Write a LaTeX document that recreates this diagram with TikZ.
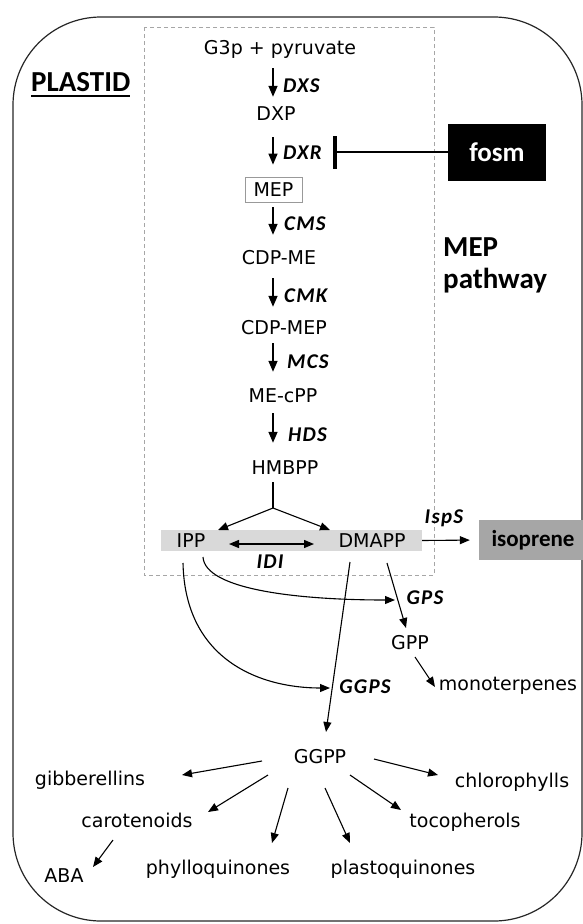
\documentclass[tikz,border=0pt]{standalone}
\usepackage{fontspec}
\setmainfont{Carlito}
\newfontfamily\metfont{DejaVu Sans}
\newfontfamily\enzfont{Carlito}[LetterSpace=6]
\usetikzlibrary{arrows.meta}
\definecolor{bandgray}{HTML}{D9D9D9}
\definecolor{isogray}{HTML}{A6A6A6}

\begin{document}
\begin{tikzpicture}[
  x=1pt, y=-1pt,
  met/.style={font=\metfont\fontsize{19}{22}\selectfont, inner sep=0pt,
    text height=14pt, text depth=0pt},
  enz/.style={font=\enzfont\bfseries\itshape\fontsize{21}{23}\selectfont,
    inner sep=0pt, text height=13pt, text depth=0pt},
  arr/.style={-{Triangle[length=11pt,width=9pt]}, line width=1.4pt},
  thinarr/.style={-{Triangle[length=10pt,width=8pt]}, line width=1.1pt},
  inhib/.style={-{Bar[width=33pt,line width=3.5pt]}, line width=2.5pt},
  dashbox/.style={draw=black!35, dash pattern=on 4pt off 3pt, line width=0.8pt},
]
  \useasboundingbox (0,0) rectangle (583,924);

  % plastid and MEP pathway frames
  \draw[line width=1.2pt, black!85, rounded corners=88pt] (13,17) rectangle (582,921);
  \draw[dashbox] (144,27) rectangle (434,575);
  \node[font=\bfseries\fontsize{29}{30}\selectfont, inner sep=0pt, text depth=0pt,
    anchor=base west] (plastid) at (31,91) {PLASTID};
  \draw[line width=2pt] ([yshift=-5pt]plastid.south west) -- ([yshift=-5pt]plastid.south east);
  \node[font=\bfseries\fontsize{29}{32}\selectfont, align=left, anchor=base west, inner sep=0pt]
    (pathway) at (443,288) {MEP\\pathway};

  % MEP chain
  \coordinate (axis) at (273,0);
  \node[met] (g3p)    at (280,47)  {G3p + pyruvate};
  \node[met] (dxp)    at (276,113) {DXP};
  \node[met, draw=black!40, line width=0.8pt, minimum width=57pt, minimum height=25pt]
    (mep) at (273.5,189.5) {MEP};
  \node[met] (cdpme)  at (279,257) {CDP-ME};
  \node[met] (cdpmep) at (284,327) {CDP-MEP};
  \node[met] (mecpp)  at (283,395) {ME-cPP};
  \node[met] (hmbpp)  at (285,467) {HMBPP};

  \node[enz, anchor=west] (dxs) at (283,86)  {DXS};
  \node[enz, anchor=west] (dxr) at (283,153) {DXR};
  \node[enz, anchor=west] (cms) at (284,224) {CMS};
  \node[enz, anchor=west] (cmk) at (284,296) {CMK};
  \node[enz, anchor=west] (mcs) at (287,362) {MCS};
  \node[enz, anchor=west] (hds) at (288,435) {HDS};

  \draw[arr, shorten <=14pt, shorten >=9pt]  (g3p.south -| axis) -- (dxp.north -| axis);
  \draw[arr, shorten <=17pt, shorten >=12pt] (dxp.south -| axis) -- (mep.north -| axis);
  \draw[arr, shorten <=5pt, shorten >=15pt]  (mep.south -| axis) -- (cdpme.north -| axis);
  \draw[arr, shorten <=14pt, shorten >=13pt] (cdpme.south -| axis) -- (cdpmep.north -| axis);
  \draw[arr, shorten <=9pt, shorten >=16pt]  (cdpmep.south -| axis) -- (mecpp.north -| axis);
  \draw[arr, shorten <=11pt, shorten >=17pt] (mecpp.south -| axis) -- (hmbpp.north -| axis);

  % fosmidomycin block
  \node[fill=black, text=white, font=\bfseries\fontsize{27}{30}\selectfont,
    minimum width=98pt, minimum height=57pt, inner sep=0pt] (fosm) at (497,152) {fosm};
  \coordinate (blk) at ([xshift=50pt]dxr.west);
  \draw[inhib] (fosm.west) -- (fosm.west -| blk);

  % IPP / DMAPP
  \node[fill=bandgray, minimum width=261pt, minimum height=21pt, inner sep=0pt]
    (band) at (291.5,540.5) {};
  \node[met] (ipp)   at (191,540) {IPP};
  \node[met] (dmapp) at (372,540) {DMAPP};
  \node[enz] (idi)   at (270,562) {IDI};
  \node[enz] (isps)  at (444,517) {IspS};
  \node[fill=isogray, minimum width=108pt, minimum height=40pt, inner sep=0pt,
    font=\bfseries\fontsize{23}{25}\selectfont] (iso) at (533,540) {isoprene};

  \coordinate (fork) at ([shift={(-12,41)}]hmbpp.center);
  \draw[line width=1.1pt] ([shift={(-12,15)}]hmbpp.center) -- (fork);
  \draw[thinarr] (fork) -- ([shift={(27,-10)}]ipp.center);
  \draw[thinarr] (fork) -- ([shift={(-42,-10)}]dmapp.center);
  \draw[{Triangle[length=10pt,width=8pt]}-{Triangle[length=10pt,width=8pt]}, line width=1.3pt]
    ([shift={(38,4)}]ipp.center) -- ([shift={(-58,4)}]dmapp.center);
  \draw[thinarr, shorten >=9pt] (band.east) -- (iso.west);

  % GPP and GGPP
  \node[met] (gpp)  at (410,642) {GPP};
  \node[met] (mono) at (508,683) {monoterpenes};
  \node[met] (ggpp) at (320,756) {GGPP};
  \node[enz] (gps)  at (425,598) {GPS};
  \node[enz] (ggps) at (365,687) {GGPS};

  \draw[thinarr] ([shift={(-8,23)}]ipp.center) .. controls +(2,97) and +(-70,0)
    .. ([shift={(-35,1)}]ggps.center);
  \draw[thinarr] ([shift={(12,17)}]ipp.center) .. controls +(2,33) and +(-95,0)
    .. ([shift={(-30,2)}]gps.center);
  \draw[thinarr] ([shift={(-22,22)}]dmapp.center) -- ([shift={(6,-24)}]ggpp.center);
  \draw[thinarr] ([shift={(15,23)}]dmapp.center) -- ([shift={(-4,-14)}]gpp.center);
  \draw[thinarr] ([shift={(5,15)}]gpp.center) -- ([shift={(-73,4)}]mono.center);

  % GGPP products
  \node[met] (gib) at (90,778)  {gibberellins};
  \node[met] (car) at (137,820) {carotenoids};
  \node[met] (aba) at (64,875)  {ABA};
  \node[met] (phy) at (218,867) {phylloquinones};
  \node[met] (pla) at (403,867) {plastoquinones};
  \node[met] (toc) at (465,820) {tocopherols};
  \node[met] (chl) at (512,780) {chlorophylls};

  \draw[thinarr] ([shift={(-58,5)}]ggpp.center)  -- ([shift={(92,-3)}]gib.center);
  \draw[thinarr] ([shift={(-52,19)}]ggpp.center) -- ([shift={(71,-8)}]car.center);
  \draw[thinarr] ([shift={(-32,32)}]ggpp.center) -- ([shift={(54,-24)}]phy.center);
  \draw[thinarr] ([shift={(5,32)}]ggpp.center)   -- ([shift={(-53,-24)}]pla.center);
  \draw[thinarr] ([shift={(30,19)}]ggpp.center)  -- ([shift={(-64,-10)}]toc.center);
  \draw[thinarr] ([shift={(54,3)}]ggpp.center)   -- ([shift={(-74,-5)}]chl.center);
  \draw[thinarr] ([shift={(-24,20)}]car.center)  -- ([shift={(29,-8)}]aba.center);
\end{tikzpicture}
\end{document}
